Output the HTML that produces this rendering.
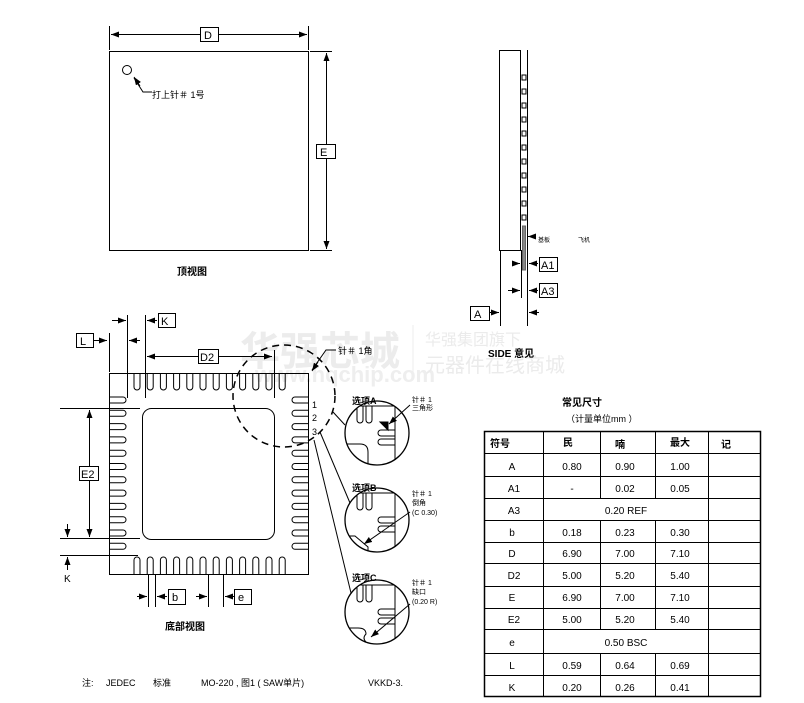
<!DOCTYPE html>
<html><head><meta charset="utf-8"><style>
html,body{margin:0;padding:0;background:#fff}
svg{display:block}
text{font-family:"Liberation Sans","Noto Sans CJK SC",sans-serif;font-size:10px;fill:#000}
.b{font-weight:bold}
</style></head><body>
<svg width="804" height="703" viewBox="0 0 804 703" xmlns="http://www.w3.org/2000/svg">
<defs>
<marker id="ar" markerWidth="8" markerHeight="6" refX="8" refY="3" orient="auto" markerUnits="userSpaceOnUse"><path d="M0,0 L8,3 L0,6z" fill="#000"/></marker>
<path id="pin" d="M-3,0 V14 A3,3 0 0 0 3,14 V0" fill="none" stroke="#000" stroke-width="1"/>
<clipPath id="cA"><circle cx="377" cy="433" r="32"/></clipPath>
<clipPath id="cB"><circle cx="377" cy="520" r="32"/></clipPath>
<clipPath id="cC"><circle cx="377" cy="612" r="32"/></clipPath>
</defs>
<g style="font-family:'Noto Sans CJK SC',sans-serif">
<text x="240" y="365" style="font-size:40px;font-weight:bold;fill:#ececec">华强芯城</text>
<text x="255" y="382" style="font-size:22px;font-weight:bold;fill:#eeeeee">www.hqchip.com</text>
<line x1="413" y1="325" x2="413" y2="378" stroke="#eeeeee"/>
<text x="425" y="345" style="font-size:16px;fill:#ebebeb">华强集团旗下</text>
<text x="425" y="372" style="font-size:20px;fill:#ebebeb">元器件在线商城</text>
</g>
<g stroke="#000" stroke-width="1" fill="none">
<rect x="109.5" y="51.5" width="199" height="199"/>
<line x1="109.5" y1="26" x2="109.5" y2="50"/><line x1="308.5" y1="26" x2="308.5" y2="50"/>
<line x1="200" y1="34.5" x2="111" y2="34.5" marker-end="url(#ar)"/>
<line x1="218" y1="34.5" x2="307" y2="34.5" marker-end="url(#ar)"/>
<line x1="310" y1="51.5" x2="332" y2="51.5"/><line x1="310" y1="250.5" x2="332" y2="250.5"/>
<line x1="326.5" y1="144" x2="326.5" y2="53" marker-end="url(#ar)"/>
<line x1="326.5" y1="158" x2="326.5" y2="249" marker-end="url(#ar)"/>
<rect x="200.5" y="27.5" width="18" height="14" fill="#fff"/>
<rect x="316.5" y="144.5" width="19" height="14" fill="#fff"/>
<circle cx="127" cy="70" r="4.5"/>
<polyline points="152,92 143,92 134,78"/>
<line x1="140" y1="86" x2="134" y2="77" marker-end="url(#ar)"/>
<rect x="499.5" y="50.5" width="21" height="200"/>
<line x1="527.5" y1="50" x2="527.5" y2="326"/>
<line x1="500.5" y1="250" x2="500.5" y2="326"/>
<line x1="521.5" y1="250" x2="521.5" y2="298"/>
<rect x="522.5" y="226" width="3" height="44" fill="#888" stroke="#666"/>
<line x1="536" y1="236.5" x2="528" y2="236.5" marker-end="url(#ar)"/>
<line x1="513" y1="263.5" x2="520" y2="263.5" marker-end="url(#ar)"/>
<line x1="538" y1="263.5" x2="529" y2="263.5" marker-end="url(#ar)"/>
<line x1="508" y1="290.5" x2="520" y2="290.5" marker-end="url(#ar)"/>
<line x1="538" y1="290.5" x2="529" y2="290.5" marker-end="url(#ar)"/>
<line x1="490" y1="312.5" x2="499" y2="312.5" marker-end="url(#ar)"/>
<line x1="539" y1="312.5" x2="529" y2="312.5" marker-end="url(#ar)"/>
<rect x="539.5" y="257.5" width="18" height="14"/>
<rect x="539.5" y="283.5" width="18" height="14"/>
<rect x="470.5" y="306.5" width="19" height="14"/>
<rect x="109.5" y="373.5" width="199" height="201"/>
<rect x="142.5" y="408.5" width="132" height="131" rx="9"/>
<line x1="127.5" y1="315" x2="127.5" y2="398"/>
<line x1="145.5" y1="315" x2="145.5" y2="398"/>
<line x1="109.5" y1="333" x2="109.5" y2="372"/>
<line x1="274.5" y1="350" x2="274.5" y2="398"/>
<line x1="94" y1="340.5" x2="107" y2="340.5" marker-end="url(#ar)"/>
<line x1="112" y1="320.5" x2="126" y2="320.5" marker-end="url(#ar)"/>
<line x1="157" y1="320.5" x2="147" y2="320.5" marker-end="url(#ar)"/>
<line x1="140" y1="340.5" x2="129" y2="340.5" marker-end="url(#ar)"/>
<line x1="198" y1="356.5" x2="147" y2="356.5" marker-end="url(#ar)"/>
<line x1="218" y1="356.5" x2="272" y2="356.5" marker-end="url(#ar)"/>
<rect x="198.5" y="349.5" width="20" height="14" fill="#fff"/>
<line x1="60" y1="408.5" x2="140" y2="408.5"/>
<line x1="60" y1="538.5" x2="140" y2="538.5"/>
<line x1="60" y1="555.5" x2="138" y2="555.5"/>
<line x1="89.5" y1="466" x2="89.5" y2="410" marker-end="url(#ar)"/>
<line x1="89.5" y1="481" x2="89.5" y2="537" marker-end="url(#ar)"/>
<rect x="79.5" y="466.5" width="19" height="14" fill="#fff"/>
<line x1="67.5" y1="524" x2="67.5" y2="537" marker-end="url(#ar)"/>
<line x1="67.5" y1="570" x2="67.5" y2="557" marker-end="url(#ar)"/>
<line x1="148.5" y1="575" x2="148.5" y2="607"/><line x1="155.5" y1="575" x2="155.5" y2="607"/>
<line x1="208.5" y1="575" x2="208.5" y2="607"/><line x1="223.5" y1="575" x2="223.5" y2="607"/>
<line x1="137" y1="596.5" x2="147" y2="596.5" marker-end="url(#ar)"/>
<line x1="167" y1="596.5" x2="157" y2="596.5" marker-end="url(#ar)"/>
<line x1="196" y1="596.5" x2="207" y2="596.5" marker-end="url(#ar)"/>
<line x1="234" y1="596.5" x2="225" y2="596.5" marker-end="url(#ar)"/>
<rect x="168.5" y="589.5" width="17" height="15"/>
<rect x="234.5" y="589.5" width="17" height="15"/>
<rect x="76.5" y="333.5" width="17" height="14"/>
<rect x="158.5" y="313.5" width="17" height="14"/>
<circle cx="284" cy="396" r="51" stroke-dasharray="7,5" stroke-width="1.5"/>
<polyline points="336,350 326,350 312,370"/>
<line x1="318" y1="362" x2="312" y2="371" marker-end="url(#ar)"/>
<line x1="333" y1="412" x2="345" y2="425"/>
<line x1="320" y1="432" x2="350" y2="503"/>
<line x1="314" y1="440" x2="351" y2="593"/>
</g>
<g>
<use href="#pin" transform="translate(137,373)"/><use href="#pin" transform="translate(150.2,373)"/><use href="#pin" transform="translate(163.4,373)"/><use href="#pin" transform="translate(176.6,373)"/><use href="#pin" transform="translate(189.8,373)"/><use href="#pin" transform="translate(203,373)"/><use href="#pin" transform="translate(216.2,373)"/><use href="#pin" transform="translate(229.4,373)"/><use href="#pin" transform="translate(242.6,373)"/><use href="#pin" transform="translate(255.8,373)"/><use href="#pin" transform="translate(269,373)"/><use href="#pin" transform="translate(282.2,373)"/>
<use href="#pin" transform="translate(137,574) rotate(180)"/><use href="#pin" transform="translate(150.2,574) rotate(180)"/><use href="#pin" transform="translate(163.4,574) rotate(180)"/><use href="#pin" transform="translate(176.6,574) rotate(180)"/><use href="#pin" transform="translate(189.8,574) rotate(180)"/><use href="#pin" transform="translate(203,574) rotate(180)"/><use href="#pin" transform="translate(216.2,574) rotate(180)"/><use href="#pin" transform="translate(229.4,574) rotate(180)"/><use href="#pin" transform="translate(242.6,574) rotate(180)"/><use href="#pin" transform="translate(255.8,574) rotate(180)"/><use href="#pin" transform="translate(269,574) rotate(180)"/><use href="#pin" transform="translate(282.2,574) rotate(180)"/>
<use href="#pin" transform="translate(109,400) rotate(-90)"/><use href="#pin" transform="translate(109,413.3) rotate(-90)"/><use href="#pin" transform="translate(109,426.6) rotate(-90)"/><use href="#pin" transform="translate(109,439.9) rotate(-90)"/><use href="#pin" transform="translate(109,453.2) rotate(-90)"/><use href="#pin" transform="translate(109,466.5) rotate(-90)"/><use href="#pin" transform="translate(109,479.8) rotate(-90)"/><use href="#pin" transform="translate(109,493.1) rotate(-90)"/><use href="#pin" transform="translate(109,506.4) rotate(-90)"/><use href="#pin" transform="translate(109,519.7) rotate(-90)"/><use href="#pin" transform="translate(109,533) rotate(-90)"/><use href="#pin" transform="translate(109,546.3) rotate(-90)"/>
<use href="#pin" transform="translate(309,400) rotate(90)"/><use href="#pin" transform="translate(309,413.3) rotate(90)"/><use href="#pin" transform="translate(309,426.6) rotate(90)"/><use href="#pin" transform="translate(309,439.9) rotate(90)"/><use href="#pin" transform="translate(309,453.2) rotate(90)"/><use href="#pin" transform="translate(309,466.5) rotate(90)"/><use href="#pin" transform="translate(309,479.8) rotate(90)"/><use href="#pin" transform="translate(309,493.1) rotate(90)"/><use href="#pin" transform="translate(309,506.4) rotate(90)"/><use href="#pin" transform="translate(309,519.7) rotate(90)"/><use href="#pin" transform="translate(309,533) rotate(90)"/><use href="#pin" transform="translate(309,546.3) rotate(90)"/>
<g fill="none" stroke="#000"><rect x="522" y="75" width="4" height="5"/><rect x="522" y="89" width="4" height="5"/><rect x="522" y="103" width="4" height="5"/><rect x="522" y="117" width="4" height="5"/><rect x="522" y="131" width="4" height="5"/><rect x="522" y="145" width="4" height="5"/><rect x="522" y="159" width="4" height="5"/><rect x="522" y="173" width="4" height="5"/><rect x="522" y="187" width="4" height="5"/><rect x="522" y="201" width="4" height="5"/><rect x="522" y="215" width="4" height="5"/></g>
</g>
<g fill="none" stroke="#000">
<g clip-path="url(#cA)">
<use href="#pin" transform="translate(360,406)"/><use href="#pin" transform="translate(369,406)"/>
<use href="#pin" transform="translate(395,433) rotate(90)"/><use href="#pin" transform="translate(395,442) rotate(90)"/>
<polyline points="352,406 395,406 395,470"/>
<path d="M340,444 H360 Q368,444 368,452 V470"/>
<path d="M380,422 L388,422 L388,430z" fill="#000"/>
</g>
<circle cx="377" cy="433" r="32" stroke-width="1.3"/>
<line x1="410" y1="405" x2="389" y2="424" marker-end="url(#ar)"/>
<g clip-path="url(#cB)">
<use href="#pin" transform="translate(360,493)"/><use href="#pin" transform="translate(369,493)"/>
<use href="#pin" transform="translate(395,520) rotate(90)"/><use href="#pin" transform="translate(395,529) rotate(90)"/>
<polyline points="352,493 395,493 395,560"/>
<path d="M340,536 H355 L368,547 V560"/>
</g>
<circle cx="377" cy="520" r="32" stroke-width="1.3"/>
<line x1="410" y1="512" x2="364" y2="544" marker-end="url(#ar)"/>
<g clip-path="url(#cC)">
<use href="#pin" transform="translate(360,585)"/><use href="#pin" transform="translate(369,585)"/>
<use href="#pin" transform="translate(395,612) rotate(90)"/><use href="#pin" transform="translate(395,621) rotate(90)"/>
<polyline points="352,585 395,585 395,650"/>
<path d="M340,628 H358 Q366,628 366,634 Q362,638 366,642 V650"/>
</g>
<circle cx="377" cy="612" r="32" stroke-width="1.3"/>
<line x1="410" y1="604" x2="371" y2="637" marker-end="url(#ar)"/>
</g>
<text x="204" y="39" style="font-size:11px">D</text>
<text x="320" y="156" style="font-size:11px">E</text>
<text x="152" y="98" style="font-size:9px">打上针＃ 1号</text>
<text x="177" y="275" class="b" style="font-size:10px">顶视图</text>
<text x="541" y="269" style="font-size:11px">A1</text>
<text x="541" y="295" style="font-size:11px">A3</text>
<text x="474" y="318" style="font-size:11px">A</text>
<text x="538" y="242" style="font-size:6px">基板</text>
<text x="578" y="242" style="font-size:6px">飞机</text>
<text x="488" y="357" class="b" style="font-size:10px">SIDE 意见</text>
<text x="80" y="345" style="font-size:11px">L</text>
<text x="161" y="325" style="font-size:11px">K</text>
<text x="200" y="361" style="font-size:11px">D2</text>
<text x="81" y="478" style="font-size:11px">E2</text>
<text x="64" y="582" style="font-size:10px">K</text>
<text x="172" y="601" style="font-size:11px">b</text>
<text x="238" y="601" style="font-size:11px">e</text>
<text x="165" y="630" class="b" style="font-size:10px">底部视图</text>
<text x="338" y="354" style="font-size:9px">针＃ 1角</text>
<text x="312" y="408" style="font-size:9px">1</text>
<text x="312" y="421" style="font-size:9px">2</text>
<text x="312" y="435" style="font-size:9px">3</text>
<text x="352" y="404" class="b" style="font-size:9px">选项A</text>
<text x="352" y="491" class="b" style="font-size:9px">选项B</text>
<text x="352" y="581" class="b" style="font-size:9px">选项C</text>
<text x="412" y="402" style="font-size:7px">针＃ 1</text><text x="412" y="410" style="font-size:7px">三角形</text>
<text x="412" y="496" style="font-size:7px">针＃ 1</text><text x="412" y="505" style="font-size:7px">倒角</text><text x="412" y="515" style="font-size:7px">(C 0.30)</text>
<text x="412" y="585" style="font-size:7px">针＃ 1</text><text x="412" y="594" style="font-size:7px">缺口</text><text x="412" y="604" style="font-size:7px">(0.20 R)</text>
<g style="font-size:9px">
<text x="82" y="686" style="font-size:9px">注:</text>
<text x="106" y="686" style="font-size:9px">JEDEC</text>
<text x="153" y="686" style="font-size:9px">标准</text>
<text x="201" y="686" style="font-size:9px">MO-220 , 图1 ( SAW单片)</text>
<text x="368" y="686" style="font-size:9px">VKKD-3.</text>
</g>
<text x="562" y="406" class="b" style="font-size:10px">常见尺寸</text>
<text x="566" y="422" style="font-size:9px">（计量单位mm ）</text>
<g stroke="#000" fill="none">
<rect x="484.5" y="431.5" width="276" height="265" stroke-width="1.5"/>
<line x1="484" y1="453.5" x2="760" y2="453.5"/><line x1="484" y1="476.5" x2="760" y2="476.5"/><line x1="484" y1="498.5" x2="760" y2="498.5"/><line x1="484" y1="520.5" x2="760" y2="520.5"/><line x1="484" y1="542.5" x2="760" y2="542.5"/><line x1="484" y1="563.5" x2="760" y2="563.5"/><line x1="484" y1="586.5" x2="760" y2="586.5"/><line x1="484" y1="608.5" x2="760" y2="608.5"/><line x1="484" y1="629.5" x2="760" y2="629.5"/><line x1="484" y1="653.5" x2="760" y2="653.5"/><line x1="484" y1="675.5" x2="760" y2="675.5"/>
<line x1="543.5" y1="431" x2="543.5" y2="697"/>
<line x1="600.5" y1="431" x2="600.5" y2="498"/><line x1="600.5" y1="520" x2="600.5" y2="629"/><line x1="600.5" y1="653" x2="600.5" y2="697"/>
<line x1="655.5" y1="431" x2="655.5" y2="498"/><line x1="655.5" y1="520" x2="655.5" y2="629"/><line x1="655.5" y1="653" x2="655.5" y2="697"/>
<line x1="708.5" y1="431" x2="708.5" y2="697"/>
</g>
<g style="font-size:10px" text-anchor="middle">
<text x="500" y="447" class="b">符号</text><text x="568" y="446" class="b">民</text><text x="620" y="448" class="b">喃</text><text x="680" y="446" class="b">最大</text><text x="726" y="448" class="b">记</text>
<text x="512" y="470">A</text><text x="572" y="470">0.80</text><text x="625" y="470">0.90</text><text x="680" y="470">1.00</text>
<text x="514" y="492">A1</text><text x="572" y="492">-</text><text x="625" y="492">0.02</text><text x="680" y="492">0.05</text>
<text x="514" y="514">A3</text><text x="626" y="514">0.20 REF</text>
<text x="512" y="536">b</text><text x="572" y="536">0.18</text><text x="625" y="536">0.23</text><text x="680" y="536">0.30</text>
<text x="512" y="557">D</text><text x="572" y="557">6.90</text><text x="625" y="557">7.00</text><text x="680" y="557">7.10</text>
<text x="514" y="579">D2</text><text x="572" y="579">5.00</text><text x="625" y="579">5.20</text><text x="680" y="579">5.40</text>
<text x="512" y="601">E</text><text x="572" y="601">6.90</text><text x="625" y="601">7.00</text><text x="680" y="601">7.10</text>
<text x="514" y="623">E2</text><text x="572" y="623">5.00</text><text x="625" y="623">5.20</text><text x="680" y="623">5.40</text>
<text x="512" y="646">e</text><text x="626" y="646">0.50 BSC</text>
<text x="512" y="669">L</text><text x="572" y="669">0.59</text><text x="625" y="669">0.64</text><text x="680" y="669">0.69</text>
<text x="512" y="691">K</text><text x="572" y="691">0.20</text><text x="625" y="691">0.26</text><text x="680" y="691">0.41</text>
</g>
</svg>
</body></html>
